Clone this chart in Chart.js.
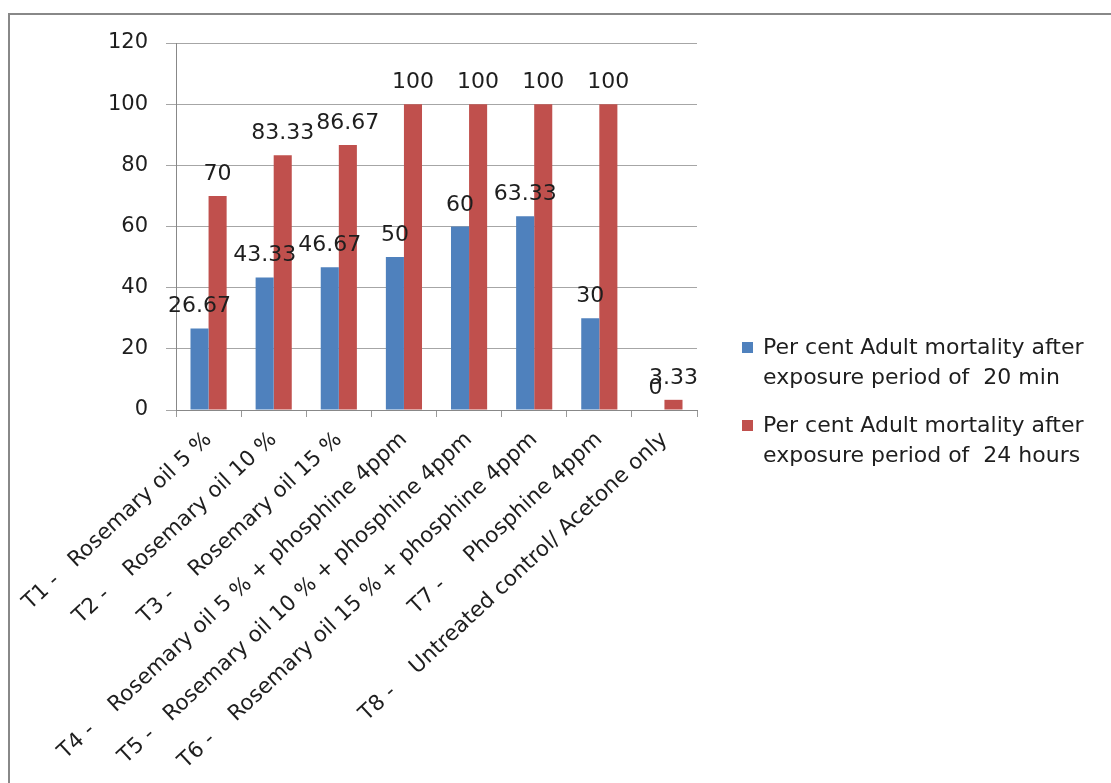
<!DOCTYPE html>
<html>
<head>
<meta charset="utf-8">
<script src="https://cdn.jsdelivr.net/npm/chart.js@4/dist/chart.umd.min.js"></script>
<style>
  body { margin: 0; background: #fff; }
  #wrap { position: relative; width: 1111px; height: 783px; overflow: hidden; }
  #frame { position: absolute; left: 8px; top: 13px; width: 1200px; height: 900px;
           border-top: 2px solid #888; border-left: 2px solid #888; }
  canvas { position: absolute; left: 0; top: 0; }
  #legend { position: absolute; left: 742px; top: 332px; font-family: 'DejaVu Sans', sans-serif;
            font-size: 22px; color: #1e1e1e; }
  .item { position: relative; padding-left: 21px; line-height: 30px; margin-bottom: 18px; white-space: pre; }
  .box { position: absolute; left: 0; top: 10px; width: 11px; height: 11px; }
</style>
</head>
<body>
<div id="wrap">
  <div id="frame"></div>
  <canvas id="mortalityChart" width="1111" height="783"></canvas>
  <div id="legend"></div>
</div>
<script>
/* Treatments along the x axis */
var categories = [
  'T1 -   Rosemary oil 5 %',
  'T2 -    Rosemary oil 10 %',
  'T3 -    Rosemary oil 15 %',
  'T4 -    Rosemary oil 5 % + phosphine 4ppm',
  'T5 -   Rosemary oil 10 % + phosphine 4ppm',
  'T6 -    Rosemary oil 15 % + phosphine 4ppm',
  'T7 -     Phosphine 4ppm',
  'T8 -    Untreated control/ Acetone only'
];

/* Per cent mortality for each exposure period */
var after20min = [26.67, 43.33, 46.67, 50, 60, 63.33, 30, 0];
var after24hours = [70, 83.33, 86.67, 100, 100, 100, 100, 3.33];

var seriesNames = [
  ['Per cent Adult mortality after', 'exposure period of  20 min'],
  ['Per cent Adult mortality after', 'exposure period of  24 hours']
];
var seriesColors = ['#4F81BD', '#C0504D'];

var yMin = 0, yMax = 120, yStep = 20;

/* Write the value above each bar, like the excel data labels */
var valueLabels = {
  id: 'valueLabels',
  afterDatasetsDraw: function(chart) {
    var ctx = chart.ctx;
    ctx.save();
    ctx.font = '22px "DejaVu Sans"';
    ctx.fillStyle = '#1e1e1e';
    ctx.textAlign = 'center';
    ctx.textBaseline = 'alphabetic';
    chart.data.datasets.forEach(function(ds, i) {
      chart.getDatasetMeta(i).data.forEach(function(bar, j) {
        ctx.fillText(String(ds.data[j]), bar.x, bar.y - 16);
      });
    });
    ctx.restore();
  }
};

function makeDataset(idx, values) {
  return {
    label: seriesNames[idx].join(' '),
    data: values,
    backgroundColor: seriesColors[idx],
    borderWidth: 0,
    categoryPercentage: 0.555,
    barPercentage: 1.0
  };
}

function createMortalityChart(canvasid) {
  Chart.defaults.font.family = '"DejaVu Sans"';
  Chart.defaults.color = '#1e1e1e';
  var ctx = document.getElementById(canvasid).getContext('2d');
  return new Chart(ctx, {
    type: 'bar',
    data: {
      labels: categories,
      datasets: [makeDataset(0, after20min), makeDataset(1, after24hours)]
    },
    options: {
      responsive: false,
      animation: false,
      layout: { padding: { left: 0, top: 43, right: 414, bottom: 0 } },
      plugins: { legend: { display: false }, tooltip: { enabled: false } },
      scales: {
        x: {
          afterFit: function(scale) { scale.height = 373; },
          grid: { drawOnChartArea: false, drawTicks: true, tickLength: 7, color: '#999' },
          border: { color: '#888' },
          ticks: { font: { size: 21.5 }, minRotation: 43, maxRotation: 43, padding: 10, autoSkip: false }
        },
        y: {
          min: yMin, max: yMax,
          afterFit: function(scale) { scale.width = 176; },
          grid: { color: '#A6A6A6', tickLength: 10 },
          border: { color: '#888' },
          ticks: { stepSize: yStep, font: { size: 21 }, padding: 18 }
        }
      }
    },
    plugins: [valueLabels]
  });
}

/* Legend as html, two lines per entry */
function buildLegend() {
  var html = '';
  for (var i = 0; i < seriesNames.length; i++) {
    html += '<div class="item"><span class="box" style="background:' + seriesColors[i] + '"></span>' +
      seriesNames[i].join('\n') + '</div>';
  }
  document.getElementById('legend').innerHTML = html;
}

createMortalityChart('mortalityChart');
buildLegend();
</script>
</body>
</html>
